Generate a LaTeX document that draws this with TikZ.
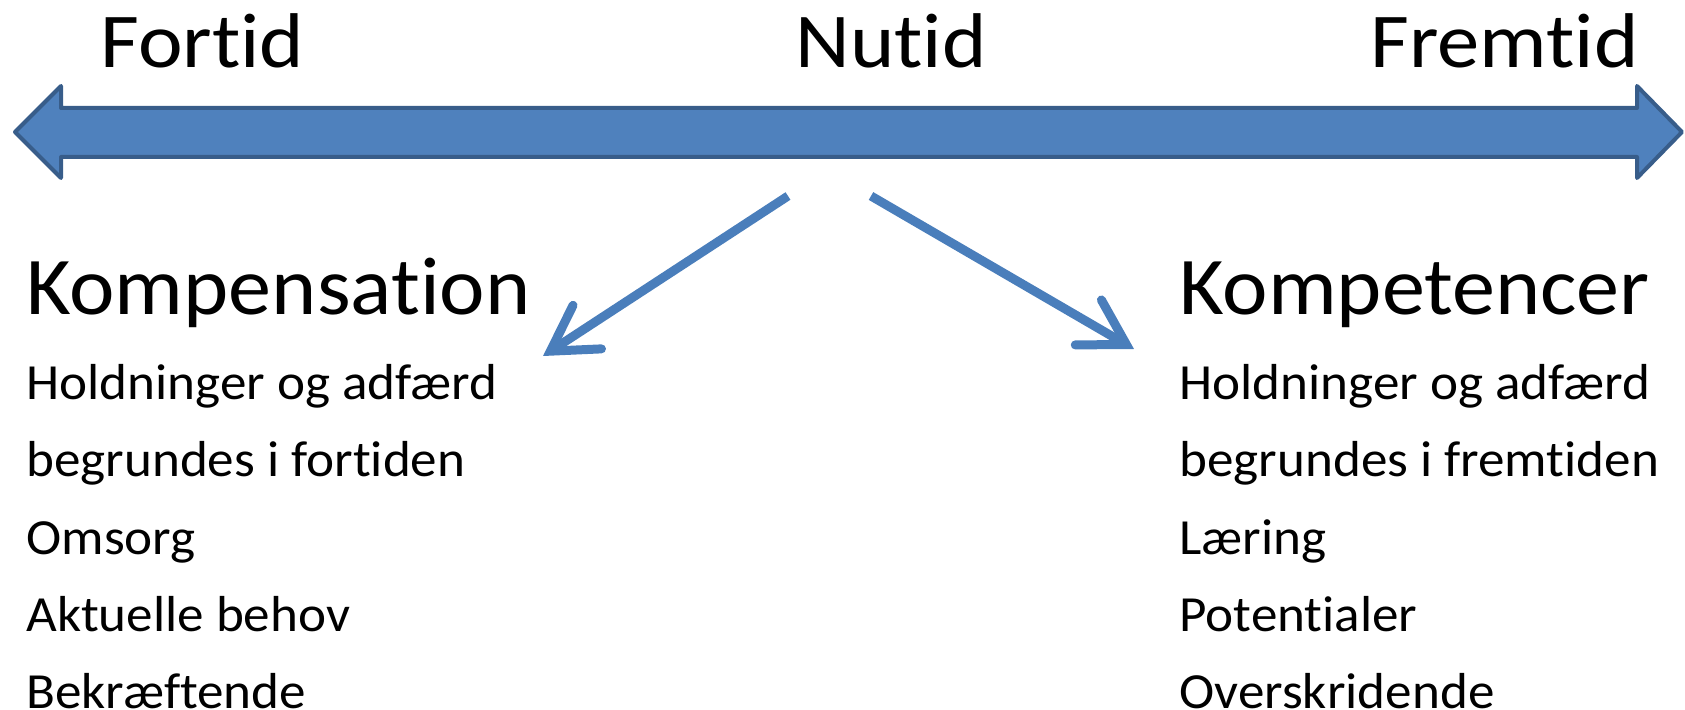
\documentclass[tikz,border=0pt]{standalone}
\usepackage{fontspec}
\setmainfont{Carlito}[Ligatures={NoCommon,NoContextual}]
\newfontfamily\tidfont{Carlito}[FakeStretch=1.09,Ligatures={NoCommon,NoContextual}]
\newfontfamily\punktfont{Carlito}[FakeStretch=1.05,Ligatures={NoCommon,NoContextual}]
\usepackage{tikz}
\usetikzlibrary{arrows.meta,positioning,calc}
\definecolor{barfill}{HTML}{4F81BD}
\definecolor{barline}{HTML}{385D8A}
\definecolor{pilblue}{HTML}{4A7EBB}

\begin{document}
\begin{tikzpicture}[
    x=0.5pt, y=-0.5pt,
    tid/.style={anchor=base west, inner sep=0pt, font=\tidfont\fontsize{38.8}{40}\selectfont},
    overskrift/.style={anchor=base west, inner sep=0pt, font=\punktfont\fontsize{41}{44}\selectfont},
    punkt/.style={anchor=base west, inner sep=0pt, font=\punktfont\fontsize{25.3}{28}\selectfont},
    pil/.style={pilblue, line width=4.5pt, -{Straight Barb[length=22pt,width=26pt,line cap=round]}},
]
    \useasboundingbox (0,0) rectangle (1685,710);

    % tidslinjen
    \draw [fill=barfill, draw=barline, line width=2pt, line join=round]
        (15,132) -- (61,86) -- (61,108) -- (1637,108) -- (1637,86) -- (1682,132)
        -- (1637,178) -- (1637,157) -- (61,157) -- (61,178) -- cycle;

    \node [tid] (fortid)  at (100,68)  {Fortid};
    \node [tid] (nutid)   at (795,68)  {Nutid};
    \node [tid] (fremtid) at (1370,68) {Fremtid};

    \node [overskrift] (komp) at (26,315)   {Kompensation};
    \node [overskrift] (kompt) at (1179,315) {Kompetencer};

    \foreach \txt [count=\i] in {Holdninger og adfærd, begrundes i fortiden, Omsorg, Aktuelle behov, Bekræftende}
        \node [punkt] (venstre\i) at (26,{323+77*\i}) {\txt};
    \foreach \txt [count=\i] in {Holdninger og adfærd, begrundes i fremtiden, Læring, Potentialer, Overskridende}
        \node [punkt] (hoejre\i) at (1179,{323+77*\i}) {\txt};

    \coordinate (fraV) at (788,196);
    \coordinate (tilV) at (543,356);
    \coordinate (fraH) at (871,196);
    \coordinate (tilH) at (1134,349);

    \draw [pil] (fraV) -- (tilV);
    \draw [pil] (fraH) -- (tilH);
\end{tikzpicture}
\end{document}
